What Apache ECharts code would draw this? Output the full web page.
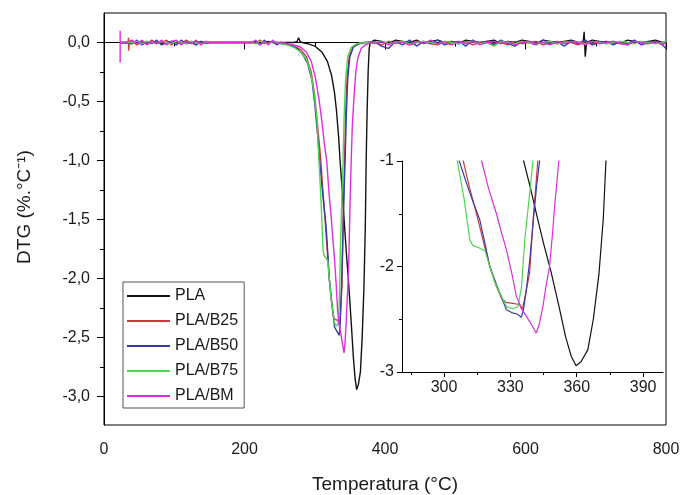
<!DOCTYPE html>
<html>
<head>
<meta charset="utf-8">
<script src="https://cdn.jsdelivr.net/npm/echarts@6/dist/echarts.min.js"></script>
<style>
html,body{margin:0;padding:0;background:#fff;}
#chart{width:681px;height:495px;}
</style>
</head>
<body>
<div id="chart"></div>
<script>
// ---------- DATA ----------
const seriesNames = ['PLA', 'PLA/B25', 'PLA/B50', 'PLA/B75', 'PLA/BM'];

const xTickLabels = [0, 200, 400, 600, 800];
const yTickValues = [0, -0.5, -1, -1.5, -2, -2.5, -3];
const insetXTicks = [300, 330, 360, 390];
const insetYTicks = [-1, -2, -3];

// baseline temperatures (°C) before the decomposition peak
const earlyTemps = [40, 47, 54, 61, 68, 75, 82, 89, 96, 103,
                    110, 117, 124, 131, 138, 145, 152, 210, 216, 222,
                    228, 234, 240, 246];
// baseline temperatures (°C) after the decomposition peak
const lateTemps = [385, 395, 405, 415, 425, 435, 445, 455, 465, 475,
                   485, 495, 505, 515, 525, 535, 545, 555, 565, 575,
                   585, 595, 605, 615, 625, 635, 645, 655, 665, 675,
                   685, 695, 705, 715, 725, 735, 745, 755, 765, 775,
                   785, 795, 800];

// ---- PLA (black)
const plaStart = [[23, 0]];
const plaEarly = [0, 0.01, -0.01, 0, 0.01, 0, -0.01, 0, 0.01, 0,
                  0, -0.01, 0, 0.01, 0, 0, 0, 0, 0.01, -0.01,
                  0, 0.01, 0, 0];
const plaPeak = [[252, 0], [262, 0], [270, 0], [275, 0.01], [277, 0.04], [279, 0.01], [282, 0],
                 [290, -0.01], [300, -0.03], [310, -0.08], [318, -0.16], [324, -0.28], [328, -0.42],
                 [331, -0.58], [334, -0.8], [336, -1.0], [339, -1.25], [342, -1.52], [345, -1.78],
                 [348.5, -2.06], [352, -2.38], [355, -2.67], [357.5, -2.85], [359.7, -2.94], [362, -2.9],
                 [365, -2.79], [367.5, -2.5], [370, -2.08], [372, -1.55], [373.2, -1.0], [374.5, -0.6],
                 [376, -0.25], [377.5, -0.05], [379, 0]];
const plaLate = [0.02, 0.01, -0.01, 0.02, 0.01, 0, 0.02, -0.01, 0.01, 0.02,
                 0, 0.01, -0.01, 0.02, 0.01, 0, 0.01, 0.02, -0.01, 0.01,
                 0, 0.02, 0.01, -0.01, 0.02, 0.01, 0, 0.01, 0.02, 0,
                 -0.12, 0.02, 0.01, 0, 0.01, -0.01, 0.02, 0.01, 0, 0.01,
                 0.02, 0, 0.01];
const plaExtra = [[682, 0], [683.5, 0.09], [687, 0]];

// ---- PLA/B25 (red)
const b25Start = [[23, 0], [34, 0], [35, 0.04], [35, -0.07], [36, 0]];
const b25Early = [0.01, -0.02, 0.01, -0.01, 0.02, -0.01, 0, 0.02, -0.02, 0.01,
                  -0.01, 0.02, 0, -0.02, 0.01, 0, 0, 0, -0.01, 0.02,
                  -0.01, 0, 0.01, -0.01];
const b25Peak = [[252, 0], [260, -0.01], [270, -0.03], [280, -0.06], [288, -0.12], [295, -0.25],
                 [300, -0.45], [304, -0.7], [308.7, -1.0], [311.5, -1.25], [314.7, -1.5], [318, -1.78],
                 [320.7, -2.0], [323.5, -2.18], [326, -2.3], [328, -2.34], [331, -2.35], [334, -2.36],
                 [335.5, -2.4], [337, -2.25], [338.7, -2.06], [340.5, -1.5], [342.4, -1.0], [344, -0.6],
                 [346, -0.3], [349, -0.12], [354, -0.04], [362, -0.01], [370, 0]];
const b25Late = [0, -0.02, 0.01, -0.01, 0.01, -0.02, 0, 0.01, -0.01, -0.02,
                 0.01, 0, -0.01, 0.01, -0.02, 0, 0.01, -0.01, 0, -0.02,
                 0.01, -0.01, 0, 0.01, -0.02, 0, -0.01, 0.01, 0, -0.02,
                 0.01, -0.01, 0, 0.01, -0.01, 0, -0.02, 0.01, 0, -0.01,
                 0.01, -0.01, 0];

// ---- PLA/B50 (blue)
const b50Start = [[23, 0]];
const b50Early = [-0.01, 0.02, -0.02, 0.01, -0.01, 0.02, -0.02, 0, 0.01, -0.02,
                  0.02, -0.01, 0.01, -0.02, 0.01, -0.01, 0, 0, 0.01, -0.02,
                  0.02, -0.01, 0.01, -0.02];
const b50Peak = [[252, 0], [255, -0.01], [265, -0.02], [275, -0.05], [283, -0.1], [290, -0.18],
                 [296, -0.32], [300, -0.52], [304, -0.78], [306.9, -1.0], [310, -1.2], [313, -1.38],
                 [316.2, -1.56], [318.5, -1.78], [320.7, -2.0], [323, -2.13], [325.2, -2.25], [328.2, -2.41],
                 [331, -2.44], [333, -2.45], [335, -2.48], [336, -2.4], [337.2, -2.22], [338.7, -1.95],
                 [340.2, -1.6], [341.8, -1.25], [343.2, -1.0], [345, -0.6], [347, -0.3], [350, -0.12],
                 [355, -0.04], [363, -0.01], [372, 0]];
const b50Late = [0.01, -0.03, -0.05, 0.01, -0.02, 0.02, -0.03, 0.01, -0.01, 0.02,
                 -0.02, 0, 0.01, -0.03, 0.02, -0.01, 0.01, -0.02, 0.02, -0.01,
                 -0.03, 0.01, 0, -0.02, 0.02, -0.01, 0.01, -0.03, 0.01, -0.01,
                 0.02, -0.02, 0, 0.01, -0.02, 0.01, -0.01, 0.02, -0.02, 0,
                 0.01, -0.02, -0.05];

// ---- PLA/B75 (green)
const b75Start = [[23, 0]];
const b75Early = [0, 0.01, -0.01, 0.01, 0, -0.01, 0.01, 0, -0.01, 0.01,
                  0, -0.01, 0.01, 0, -0.01, 0, 0, 0, -0.01, 0.01,
                  0, -0.01, 0.01, 0];
const b75Peak = [[250, -0.01], [260, -0.02], [270, -0.04], [280, -0.08], [288, -0.14], [294, -0.25],
                 [299, -0.42], [303, -0.65], [306, -1.0], [309, -1.35], [311.7, -1.75], [313, -1.8],
                 [316.5, -1.83], [318.5, -1.85], [320.7, -2.0], [323, -2.15], [325.2, -2.25], [328.2, -2.38],
                 [331, -2.4], [333.4, -2.38], [335, -2.2], [336.5, -1.75], [338.5, -1.35], [340.2, -1.0],
                 [342, -0.6], [344, -0.3], [347, -0.12], [352, -0.04], [360, -0.01], [368, 0]];
const b75Late = [0, 0.01, -0.01, 0, 0.01, -0.01, 0, 0.01, 0, -0.01,
                 0.01, 0, -0.01, 0, 0.01, -0.01, 0, -0.03, 0.01, 0,
                 -0.01, 0.01, 0, -0.01, 0, 0.01, -0.01, 0, 0.01, 0,
                 -0.01, 0.01, 0, -0.01, 0, 0.01, 0, -0.01, 0.01, 0,
                 -0.01, 0, 0.01];

// ---- PLA/BM (magenta)
const bmStart = [[23, 0.1], [23, -0.17], [23, 0], [30, 0]];
const bmEarly = [0.02, -0.01, 0.02, -0.02, 0.01, -0.01, 0.02, -0.02, 0.01, 0.02,
                 -0.02, 0.01, -0.01, 0.02, -0.02, 0.01, 0, 0, 0.02, -0.02,
                 0.01, -0.02, 0.02, -0.01];
const bmPeak = [[252, 0], [260, -0.01], [270, -0.02], [280, -0.04], [288, -0.08], [295, -0.16],
                [301, -0.3], [306, -0.48], [310, -0.66], [313.5, -0.85], [317, -1.0], [320, -1.25],
                [323.7, -1.5], [326, -1.68], [328.2, -1.84], [330.5, -2.05], [332.7, -2.28], [335, -2.4],
                [337.2, -2.47], [339.5, -2.55], [341.7, -2.63], [343, -2.55], [344.7, -2.38], [346, -2.2],
                [347.7, -2.0], [349, -1.7], [350, -1.43], [351.9, -1.0], [353.5, -0.7], [356, -0.45],
                [358.5, -0.25], [361, -0.14], [366, -0.05], [372, -0.02], [380, 0]];
const bmLate = [-0.01, 0.01, -0.02, 0.01, 0, -0.02, 0.01, -0.01, 0.02, -0.01,
                0, -0.02, 0.01, -0.01, 0.01, -0.02, 0, 0.01, -0.01, 0.01,
                -0.02, 0, 0.01, -0.01, 0, -0.02, 0.01, -0.01, 0.01, 0,
                -0.02, 0.01, -0.01, 0, 0.01, -0.01, -0.02, 0.01, 0, -0.01,
                0.01, -0.02, 0];

const seriesColors = ['#111111', '#cc3b3b', '#3a3aa8', '#4cd84c', '#dd2edd'];

// ---------- BUILD ----------
function build(start, early, peak, late, extra) {
  const pts = [];
  start.forEach(p => pts.push(p));
  early.forEach((v, i) => pts.push([earlyTemps[i], v]));
  peak.forEach(p => pts.push(p));
  late.forEach((v, i) => pts.push([lateTemps[i], v]));
  (extra || []).forEach(p => pts.push(p));
  return pts.map((p, i) => [p, i]).sort((a, b) => a[0][0] - b[0][0] || a[1] - b[1]).map(a => a[0]);
}

const allData = [
  build(plaStart, plaEarly, plaPeak, plaLate, plaExtra),
  build(b25Start, b25Early, b25Peak, b25Late),
  build(b50Start, b50Early, b50Peak, b50Late),
  build(b75Start, b75Early, b75Peak, b75Late),
  build(bmStart, bmEarly, bmPeak, bmLate)
];

const FONT = '"Liberation Sans", Arial, sans-serif';
const TXT = '#1a1a1a';
const commaFmt = v => {
  const s = Math.abs(v) < 1e-9 ? '0.0' : v.toFixed(1);
  return s.replace('.', ',');
};

const series = [];
allData.forEach((d, i) => {
  series.push({
    name: seriesNames[i], type: 'line', data: d, xAxisIndex: 0, yAxisIndex: 0,
    showSymbol: false, symbol: 'none', clip: true,
    lineStyle: { color: seriesColors[i], width: 1.4 }, itemStyle: { color: seriesColors[i] },
    z: 2 + i
  });
});
allData.forEach((d, i) => {
  series.push({
    name: seriesNames[i], type: 'line', data: d, xAxisIndex: 1, yAxisIndex: 2,
    showSymbol: false, symbol: 'none', clip: true,
    lineStyle: { color: seriesColors[i], width: 1.2 }, itemStyle: { color: seriesColors[i] },
    z: 2 + i
  });
});

const chart = echarts.init(document.getElementById('chart'), null, { renderer: 'canvas' });
chart.setOption({
  animation: false,
  backgroundColor: '#fff',
  textStyle: { fontFamily: FONT },
  grid: [
    { left: 104, right: 15, top: 13, bottom: 70, show: true, borderColor: '#000', borderWidth: 1,
      backgroundColor: 'transparent', containLabel: false, outerBoundsMode: 'none' },
    { left: 402, right: 18, top: 161, bottom: 123, containLabel: false, outerBoundsMode: 'none' }
  ],
  legend: {
    data: seriesNames,
    orient: 'vertical',
    left: 123, top: 282,
    padding: [6, 6, 4, 4],
    itemGap: 9,
    itemWidth: 43, itemHeight: 2,
    icon: 'rect',
    borderColor: '#555', borderWidth: 1,
    backgroundColor: '#fff',
    selectedMode: false,
    textStyle: { fontSize: 16, color: TXT, fontFamily: FONT }
  },
  xAxis: [
    {
      type: 'value', gridIndex: 0, min: 0, max: 800, interval: 200,
      name: 'Temperatura (°C)', nameLocation: 'middle', nameGap: 50,
      nameTextStyle: { fontSize: 19, color: TXT, fontFamily: FONT },
      axisLine: { show: true, lineStyle: { color: '#000', width: 1 } },
      axisTick: { show: true, inside: false, length: 7, lineStyle: { color: '#000' } },
      minorTick: { show: true, splitNumber: 2, length: 4, lineStyle: { color: '#000' } },
      axisLabel: { fontSize: 16, color: TXT, margin: 17, fontFamily: FONT },
      splitLine: { show: false }
    },
    {
      type: 'value', gridIndex: 1, min: 281, max: 399, position: 'bottom',
      axisLine: { show: true, onZero: false, lineStyle: { color: '#000', width: 1 } },
      axisTick: { show: true, inside: false, length: 5, customValues: insetXTicks, lineStyle: { color: '#000' } },
      axisLabel: { fontSize: 16, color: TXT, margin: 8, customValues: insetXTicks, fontFamily: FONT },
      splitLine: { show: false }
    },
    {
      type: 'value', gridIndex: 1, min: 281, max: 399, position: 'bottom',
      axisLine: { show: false, onZero: false },
      axisTick: { show: true, inside: false, length: 3, customValues: [285, 315, 345, 375], lineStyle: { color: '#000' } },
      axisLabel: { show: false },
      splitLine: { show: false }
    }
  ],
  yAxis: [
    {
      type: 'value', gridIndex: 0, min: -3.24, max: 0.25, position: 'left',
      name: 'DTG (%.°C⁻¹)', nameLocation: 'middle', nameGap: 70, nameRotate: 90,
      nameTextStyle: { fontSize: 19, color: TXT, fontFamily: FONT, padding: [0, 0, 0, 24] },
      axisLine: { show: true, onZero: false, lineStyle: { color: '#000', width: 1 } },
      axisTick: { show: true, inside: false, length: 7, customValues: yTickValues, lineStyle: { color: '#000' } },
      axisLabel: { fontSize: 16, color: TXT, margin: 14, customValues: yTickValues, formatter: commaFmt, fontFamily: FONT },
      splitLine: { show: false }
    },
    {
      type: 'value', gridIndex: 0, min: -3.24, max: 0.25, position: 'left', offset: 0,
      axisLine: { show: false, onZero: false },
      axisTick: { show: true, inside: false, length: 4, customValues: [-0.25, -0.75, -1.25, -1.75, -2.25, -2.75], lineStyle: { color: '#000' } },
      axisLabel: { show: false },
      splitLine: { show: false }
    },
    {
      type: 'value', gridIndex: 1, min: -3, max: -1, interval: 1, position: 'left',
      axisLine: { show: true, onZero: false, lineStyle: { color: '#000', width: 1 } },
      axisTick: { show: true, inside: false, length: 5, customValues: insetYTicks, lineStyle: { color: '#000' } },
      minorTick: { show: true, splitNumber: 2, length: 3, lineStyle: { color: '#000' } },
      axisLabel: { fontSize: 16, color: TXT, margin: 8, customValues: insetYTicks, formatter: v => String(v), fontFamily: FONT },
      splitLine: { show: false }
    }
  ],
  series: series
});
</script>
</body>
</html>
